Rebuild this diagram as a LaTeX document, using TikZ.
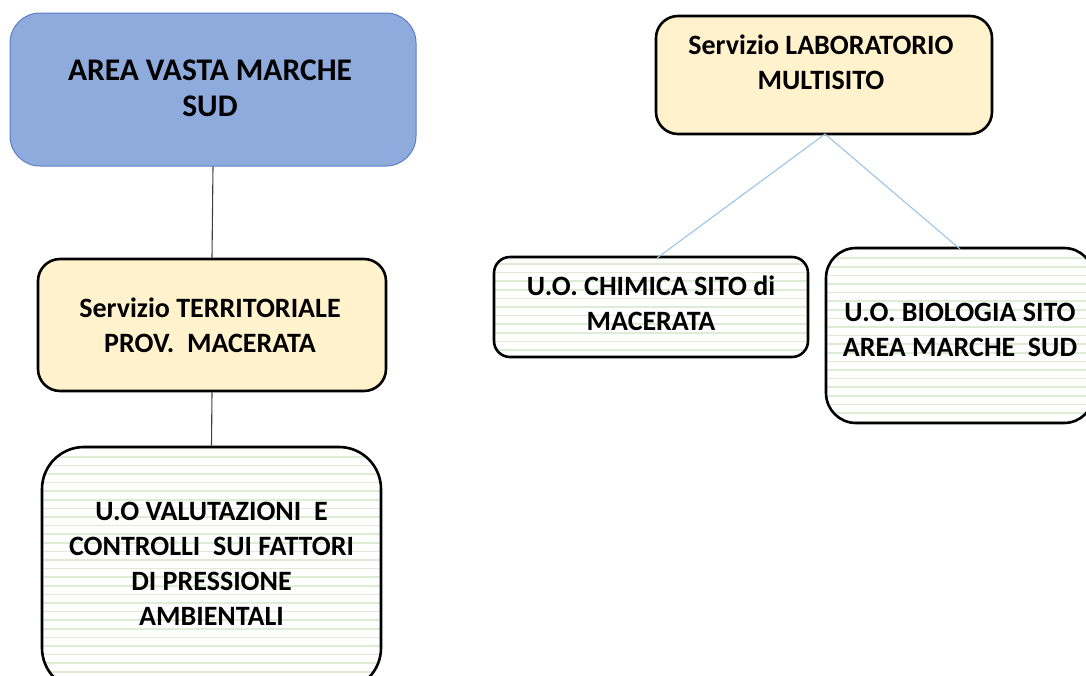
\documentclass[tikz,border=0pt]{standalone}
\usepackage{fontspec}
\setmainfont{Carlito}
\definecolor{blueA}{HTML}{8FAADC}
\definecolor{blueB}{HTML}{5B7FC4}
\definecolor{cream}{HTML}{FFF2CC}
\definecolor{stripe}{HTML}{DDEDD3}
\definecolor{linkblue}{HTML}{9DC3E6}
\definecolor{darkline}{HTML}{404040}
\tikzset{
  lbl/.style={font=\fontsize{28}{35}\selectfont\bfseries, align=center, text=black, inner sep=0pt},
  biglbl/.style={font=\fontsize{31.5}{36}\selectfont\bfseries, align=center, text=black, inner sep=0pt},
  areabox/.style={draw=blueB, line width=1pt, fill=blueA, rounded corners=30pt},
  creambox/.style={draw=black, line width=2.6pt, fill=cream},
  stripebox/.style={draw=black, line width=2.6pt, fill=white,
    path picture={
      \foreach \k in {-40,...,40}{
        \draw[stripe, line width=1.6pt]
          ([xshift=-300pt,yshift=8.6*\k pt]path picture bounding box.center) --
          ([xshift=300pt,yshift=8.6*\k pt]path picture bounding box.center);
      }
    }},
  darklink/.style={draw=darkline, line width=1.1pt},
  bluelink/.style={draw=linkblue, line width=1.1pt}
}
\begin{document}
\begin{tikzpicture}[x=1pt,y=-1pt]
\useasboundingbox (0,0) rectangle (1086,675);
\clip (0,0) rectangle (1086,675);
% boxes
\node[areabox, minimum width=406pt, minimum height=153pt] (A) at (213,89.5) {};
\node[biglbl] (Atxt) at (210,88) {AREA VASTA MARCHE\\SUD};
\node[creambox, rounded corners=22pt, minimum width=348pt, minimum height=132pt] (B) at (212,325) {};
\node[lbl] (Btxt) at (210,325.5) {Servizio TERRITORIALE\\PROV.\ \ MACERATA};
\node[stripebox, rounded corners=42pt, minimum width=339pt, minimum height=243pt] (C) at (211.5,568.5) {};
\node[lbl] (Ctxt) at (211.5,563.5) {U.O VALUTAZIONI\ \ E\\CONTROLLI\ \ SUI FATTORI\\DI PRESSIONE\\AMBIENTALI};
\node[creambox, rounded corners=22pt, minimum width=336pt, minimum height=118pt] (D) at (824,75) {};
\node[lbl] (Dtxt) at (821,62.5) {Servizio LABORATORIO\\MULTISITO};
\node[stripebox, rounded corners=16pt, minimum width=314pt, minimum height=100pt] (E) at (651,307) {};
\node[lbl] (Etxt) at (651,303) {U.O. CHIMICA SITO di\\MACERATA};
\node[stripebox, rounded corners=30pt, minimum width=268pt, minimum height=175pt] (F) at (960,335.5) {};
\node[lbl] (Ftxt) at (960,329.5) {U.O. BIOLOGIA SITO\\AREA MARCHE\ \ SUD};
% connectors
\draw[darklink] (A.south) -- (B.north);
\draw[darklink] (B.south) -- (C.north);
\coordinate (Dlow) at (825,134);
\coordinate (Etop) at (657,258);
\coordinate (Ftop) at (960,249);
\draw[bluelink] (Dlow) -- (Etop);
\draw[bluelink] (Dlow) -- (Ftop);
\end{tikzpicture}
\end{document}
